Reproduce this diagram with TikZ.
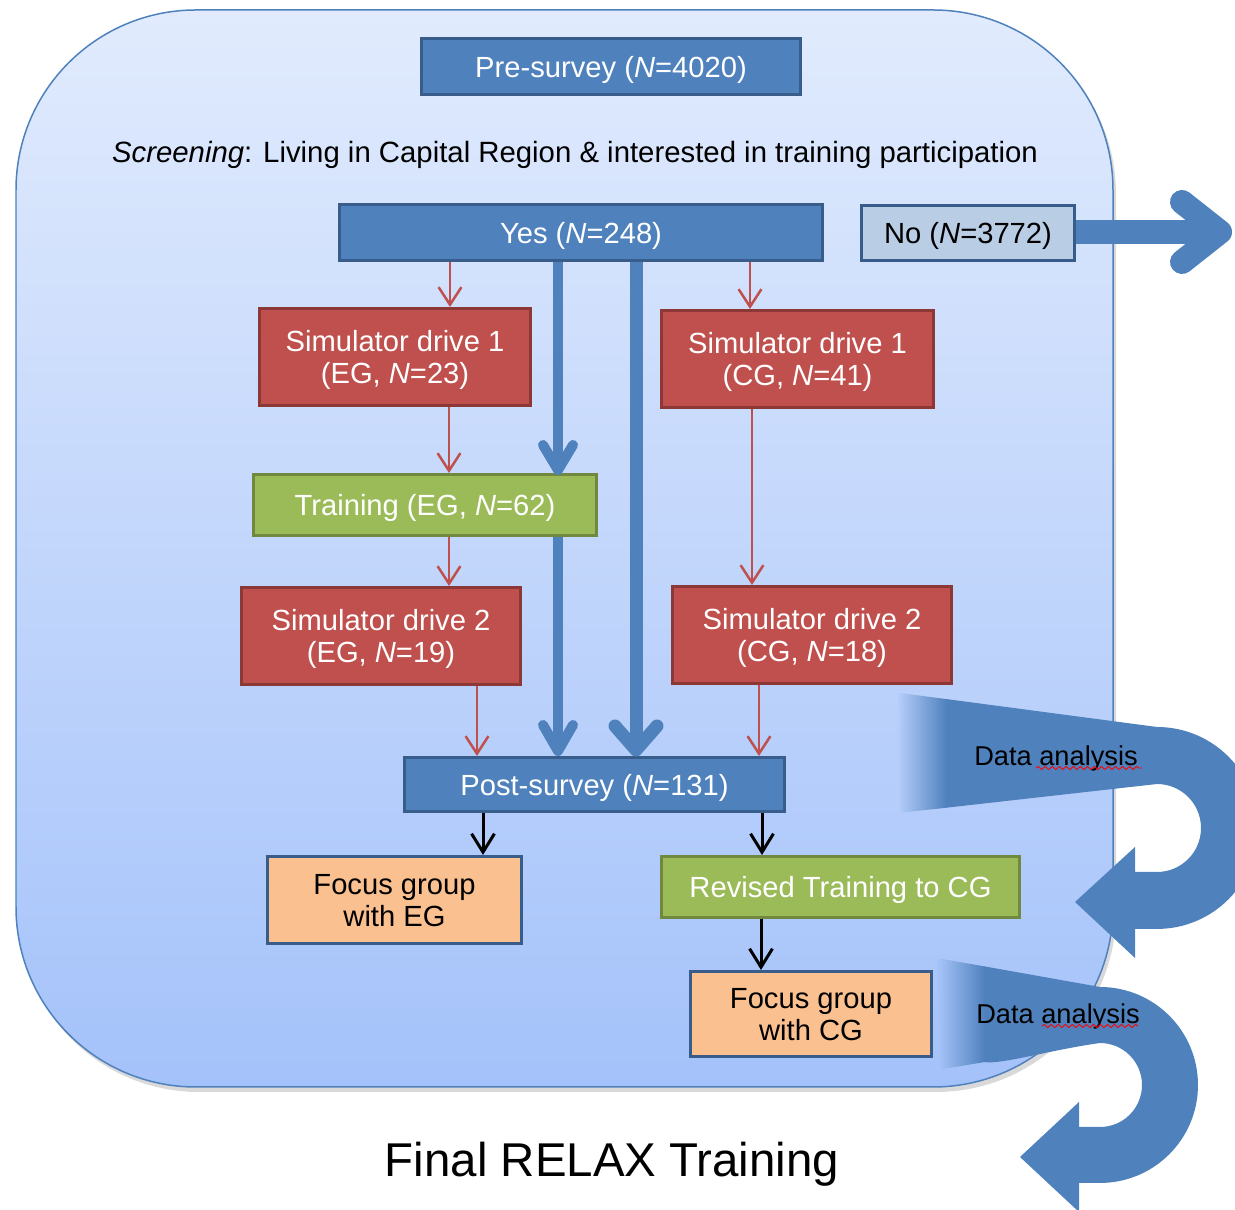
\documentclass[tikz,border=0pt]{standalone}
\usepackage{fontspec}
\setmainfont{Liberation Sans}
\usetikzlibrary{arrows.meta,decorations.pathmorphing}
\definecolor{bxblue}{HTML}{4F81BD}
\definecolor{bxblueline}{HTML}{385D8A}
\definecolor{bxred}{HTML}{C0504D}
\definecolor{bxredline}{HTML}{8C3836}
\definecolor{bxgreen}{HTML}{9BBB59}
\definecolor{bxgreenline}{HTML}{71893F}
\definecolor{bxorange}{HTML}{FAC090}
\definecolor{bxpale}{HTML}{B9CDE5}
\definecolor{bgtop}{RGB}{225,235,253}
\definecolor{bgbot}{RGB}{164,194,250}
\definecolor{bgline}{HTML}{4F81BD}
\newcommand\boxtext[1]{\raisebox{-0.085cm}[\height][\depth]{\begin{tabular}{@{}c@{}}#1\end{tabular}}}
\tikzset{
  flowbox/.style={rectangle, line width=0.06cm, font=\fontsize{16.6}{18.5}\selectfont, inner sep=2pt},
  bluebox/.style={flowbox, fill=bxblue, draw=bxblueline, text=white},
  redbox/.style={flowbox, fill=bxred, draw=bxredline, text=white},
  greenbox/.style={flowbox, fill=bxgreen, draw=bxgreenline, text=white},
  orangebox/.style={flowbox, fill=bxorange, draw=bxblueline, text=black},
  palebox/.style={flowbox, fill=bxpale, draw=bxblueline, text=black},
  redarrow/.style={draw=bxred, line width=0.05cm, -{Straight Barb[length=10pt,width=13pt]}},
  blackarrow/.style={draw=black, line width=0.06cm, -{Straight Barb[length=10.5pt,width=13pt]}},
  shaft/.style={draw=bxblue, line width=#1},
  chev/.style={draw=bxblue, line width=#1, line cap=round, line join=round},
  uturn/.style={fill=bxblue},
  datalabel/.style={font=\fontsize{15.5}{17}\selectfont, text=black},
  squiggle/.style={draw=red, line width=0.5pt, decorate, decoration={snake, amplitude=0.9pt, segment length=4pt}}
}
\begin{document}
\begin{tikzpicture}[x=0.02cm,y=0.02cm]
\useasboundingbox (0,0) rectangle (1235,1210);
% background panel
\fill[black!15, rounded corners=3.6cm] (19,118) rectangle (1116,1196);
\path[top color=bgtop, bottom color=bgbot, draw=bgline, line width=0.03cm, rounded corners=3.6cm] (16,123) rectangle (1113,1200);

% nodes
\node[bluebox, minimum width=7.58cm, minimum height=1.12cm] (pre) at (611,1143.5) {\boxtext{Pre-survey (\textit{N}=4020)}};
\node[font=\fontsize{16.7}{18.5}\selectfont] (screen) at (575,1055) {\textit{Screening}: Living in Capital Region \& interested in training participation};
\node[bluebox, minimum width=9.66cm, minimum height=1.12cm] (yes) at (581,977.5) {\boxtext{Yes (\textit{N}=248)}};
\node[redbox, minimum width=5.42cm, minimum height=1.94cm] (s1eg) at (395,853) {\boxtext{Simulator drive 1\\(EG, \textit{N}=23)}};
\node[redbox, minimum width=5.44cm, minimum height=1.94cm] (s1cg) at (797.5,851) {\boxtext{Simulator drive 1\\(CG, \textit{N}=41)}};
\node[greenbox, minimum width=6.86cm, minimum height=1.22cm] (train) at (425,705) {\boxtext{Training (EG, \textit{N}=62)}};
\node[redbox, minimum width=5.58cm, minimum height=1.94cm] (s2eg) at (381,574) {\boxtext{Simulator drive 2\\(EG, \textit{N}=19)}};
\node[redbox, minimum width=5.58cm, minimum height=1.94cm] (s2cg) at (812,575) {\boxtext{Simulator drive 2\\(CG, \textit{N}=18)}};
\node[bluebox, minimum width=7.6cm, minimum height=1.08cm] (post) at (594.5,425.5) {\boxtext{Post-survey (\textit{N}=131)}};
\node[orangebox, minimum width=5.08cm, minimum height=1.74cm] (fgeg) at (394.5,310) {\boxtext{Focus group\\with EG}};
\node[greenbox, minimum width=7.16cm, minimum height=1.22cm] (rev) at (840.5,323) {\boxtext{Revised Training to CG}};
\node[orangebox, minimum width=4.82cm, minimum height=1.70cm] (fgcg) at (811,196) {\boxtext{Focus group\\with CG}};
\node[font=\fontsize{27}{30}\selectfont] (final) at (612,46) {Final RELAX Training};

% big "No" arrow
\coordinate (noend) at (1220,978);
\draw[shaft=0.48cm] (1076,978) -- (noend);
\node[palebox, minimum width=4.26cm, minimum height=1.10cm] (no) at (968,977) {\boxtext{No (\textit{N}=3772)}};
\draw[chev=0.48cm] (1182,1008) -- (noend) -- (1182,948);

% red arrows
\draw[redarrow] (yes.south -| 450,0) -- (s1eg.north -| 450,0);
\draw[redarrow] (yes.south -| 750,0) -- (s1cg.north -| 750,0);
\draw[redarrow] (s1eg.south -| 449,0) -- (train.north -| 449,0);
\draw[redarrow] (train.south -| 449,0) -- (s2eg.north -| 449,0);
\draw[redarrow] (s1cg.south -| 752,0) -- (s2cg.north -| 752,0);
\draw[redarrow] (s2eg.south -| 477,0) -- (post.north -| 477,0);
\draw[redarrow] (s2cg.south -| 759,0) -- (post.north -| 759,0);

% thick blue arrows
\coordinate (tA) at (558,740);
\coordinate (tB) at (558,459);
\coordinate (tC) at (636,460);
\draw[shaft=0.2cm] (yes.south -| tA) -- (tA);
\draw[chev=0.2cm] (tA) +(-15,25) -- (tA) -- +(15,25);
\draw[shaft=0.2cm] (train.south -| tB) -- (tB);
\draw[chev=0.2cm] (tB) +(-15,26) -- (tB) -- +(15,26);
\draw[shaft=0.26cm] (yes.south -| tC) -- (tC);
\draw[chev=0.26cm] (tC) +(-21,24) -- (tC) -- +(21,24);

% black arrows
\draw[blackarrow] (post.south -| 483,0) -- (fgeg.north -| 483,0);
\draw[blackarrow] (post.south -| 762,0) -- (rev.north -| 762,0);
\draw[blackarrow] (rev.south -| 761,0) -- (fgcg.north -| 761,0);

% upper U-turn arrow (data analysis)
\shade[left color=bgbot!69!bgtop, right color=bxblue] (897,517.4) -- (947,510.8) -- (947,402.3) -- (897,397) -- cycle;
\fill[uturn] (946.5,510.9) -- (1157,483) arc[start angle=90, end angle=-90, radius=2.02cm]
  -- (1135,281) -- (1135,252) -- (1075,308) -- (1135,363) -- (1135,338) -- (1157,338)
  arc[start angle=-90, end angle=90, radius=0.88cm] -- (946.5,402.3) -- cycle;
\node[datalabel] (da1) at (1056,452) {Data analysis};
\draw[squiggle] (1036,442) -- (1142,442);

% lower U-turn arrow (data analysis)
\shade[left color=bgbot!93!bgtop, right color=bxblue] (937,252) -- (985,243.5) -- (985,148) -- (937,140) -- cycle;
\fill[uturn] (984.5,243.6) -- (1100,223) arc[start angle=90, end angle=-90, radius=1.96cm]
  -- (1079,27) -- (1079,-2) -- (1020,53) -- (1079,108) -- (1079,83) -- (1100,83)
  arc[start angle=-90, end angle=90, radius=0.84cm] -- (1100,167) .. controls (1050,160) and (1000,145) .. (984.5,148) -- cycle;
\node[datalabel] (da2) at (1058,194) {Data analysis};
\draw[squiggle] (1042,184) -- (1138,184);
\end{tikzpicture}
\end{document}
